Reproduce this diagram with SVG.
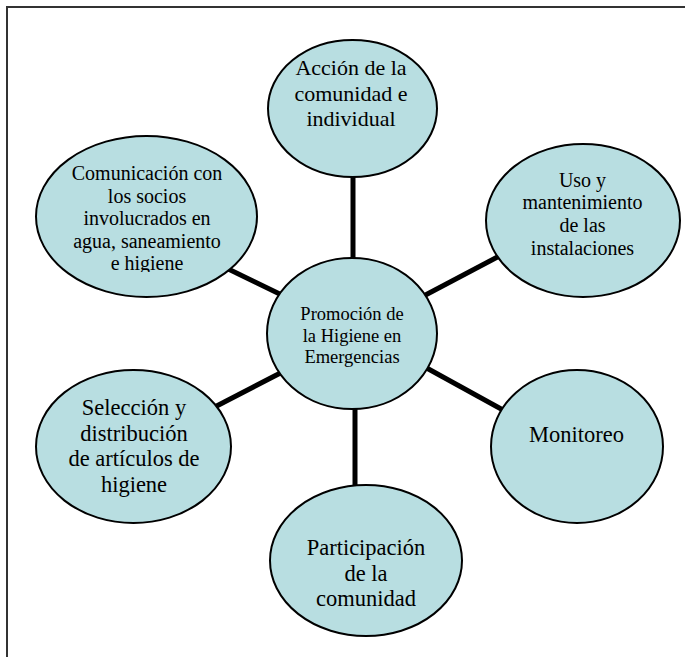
<svg xmlns="http://www.w3.org/2000/svg" width="685" height="657" viewBox="0 0 685 657">
<style>
.node{fill:#B8DEE1;stroke:#000;stroke-width:2}
.lbl{font-family:"Liberation Serif","Times New Roman",serif;fill:#000;text-anchor:middle}
.con{stroke:#000;stroke-width:5;stroke-linecap:butt}
.frame{stroke:#333;stroke-width:2;fill:none}
</style>
<defs>
<clipPath id="clipCom"><rect x="30" y="150" width="240" height="122"/></clipPath>
</defs>
<rect width="685" height="657" fill="#fff"/>
<path class="frame" d="M7,657 V7 H685"/>
<g id="connectors">
<line class="con" x1="353" y1="170" x2="353" y2="265"/>
<line class="con" x1="218" y1="264" x2="290" y2="299"/>
<line class="con" x1="416" y1="300" x2="505" y2="253"/>
<line class="con" x1="207" y1="411" x2="292" y2="367"/>
<line class="con" x1="423" y1="366" x2="512" y2="415"/>
<line class="con" x1="355" y1="400" x2="355" y2="492"/>
</g>
<g id="n-accion">
<ellipse class="node" cx="352.5" cy="108.5" rx="84.5" ry="68.5"/>
<text class="lbl" font-size="22" x="351" y="75">Acción de la</text>
<text class="lbl" font-size="22" x="351" y="100.5">comunidad e</text>
<text class="lbl" font-size="22" x="351" y="126">individual</text>
</g>
<g id="n-comunicacion">
<ellipse class="node" cx="146.5" cy="216.5" rx="110.5" ry="80.5"/>
<g clip-path="url(#clipCom)">
<text class="lbl" font-size="20" x="147" y="180">Comunicación con</text>
<text class="lbl" font-size="20" x="147" y="202.5">los socios</text>
<text class="lbl" font-size="20" x="147" y="225">involucrados en</text>
<text class="lbl" font-size="20" x="147" y="247.5">agua, saneamiento</text>
<text class="lbl" font-size="20" x="147" y="270">e higiene</text>
</g>
</g>
<g id="n-uso">
<ellipse class="node" cx="583" cy="220.5" rx="97" ry="76.5"/>
<text class="lbl" font-size="20" x="582.5" y="187">Uso y</text>
<text class="lbl" font-size="20" x="582.5" y="209">mantenimiento</text>
<text class="lbl" font-size="20" x="582.5" y="232">de las</text>
<text class="lbl" font-size="20" x="582.5" y="255">instalaciones</text>
</g>
<g id="n-promocion">
<ellipse class="node" cx="352" cy="333.5" rx="85" ry="75.5"/>
<text class="lbl" font-size="18.5" x="352" y="320">Promoción de</text>
<text class="lbl" font-size="18.5" x="352" y="341.5">la Higiene en</text>
<text class="lbl" font-size="18.5" x="352" y="363">Emergencias</text>
</g>
<g id="n-seleccion">
<ellipse class="node" cx="133.5" cy="446.5" rx="97.5" ry="76.5"/>
<text class="lbl" font-size="22.5" x="134" y="415">Selección y</text>
<text class="lbl" font-size="22.5" x="134" y="440.5">distribución</text>
<text class="lbl" font-size="22.5" x="134" y="466">de artículos de</text>
<text class="lbl" font-size="22.5" x="134" y="492">higiene</text>
</g>
<g id="n-monitoreo">
<ellipse class="node" cx="577" cy="446.5" rx="86" ry="76.5"/>
<text class="lbl" font-size="22.5" x="576.5" y="442">Monitoreo</text>
</g>
<g id="n-participacion">
<ellipse class="node" cx="366" cy="560.5" rx="96" ry="75.5"/>
<text class="lbl" font-size="22.5" x="366" y="555">Participación</text>
<text class="lbl" font-size="22.5" x="366" y="581">de la</text>
<text class="lbl" font-size="22.5" x="366" y="606">comunidad</text>
</g>
</svg>
